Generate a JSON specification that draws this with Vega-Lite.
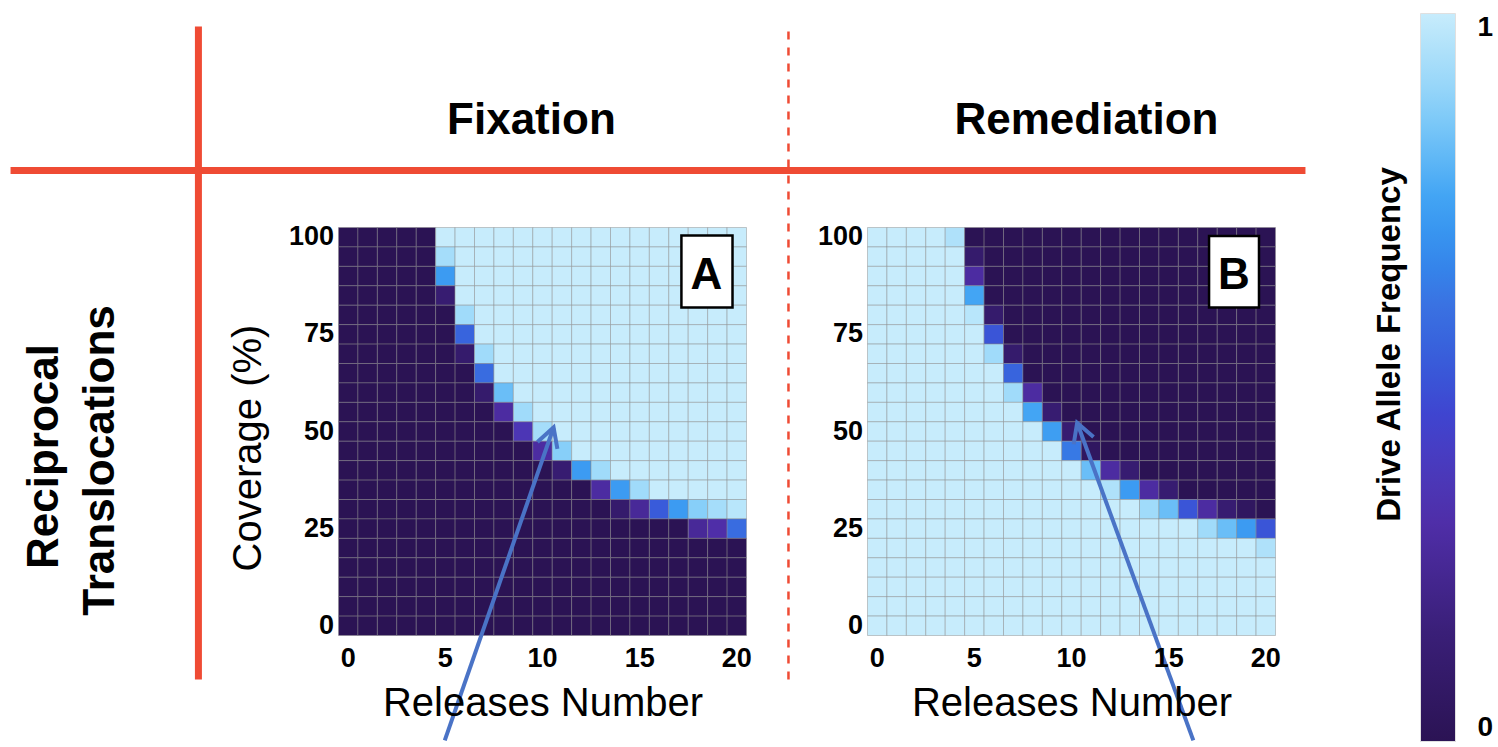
{
  "$schema": "https://vega.github.io/schema/vega-lite/v6.json",
  "padding": {"left": 6.5, "top": 13.5, "right": 0, "bottom": 0},
  "background": "white",
  "config": {
    "font": "Liberation Sans",
    "view": {"stroke": null},
    "axis": {"labelColor": "black", "titleColor": "black", "labelFont": "Liberation Sans", "titleFont": "Liberation Sans"},
    "legend": {"labelFont": "Liberation Sans", "labelColor": "black"}
  },
  "datasets": {
    "fix": [
{"rel":0,"cov":100,"freq":0},{"rel":0,"cov":95,"freq":0},{"rel":0,"cov":90,"freq":0},{"rel":0,"cov":85,"freq":0},{"rel":0,"cov":80,"freq":0},{"rel":0,"cov":75,"freq":0},{"rel":0,"cov":70,"freq":0},{"rel":0,"cov":65,"freq":0},{"rel":0,"cov":60,"freq":0},{"rel":0,"cov":55,"freq":0},{"rel":0,"cov":50,"freq":0},{"rel":0,"cov":45,"freq":0},{"rel":0,"cov":40,"freq":0},{"rel":0,"cov":35,"freq":0},{"rel":0,"cov":30,"freq":0},{"rel":0,"cov":25,"freq":0},{"rel":0,"cov":20,"freq":0},{"rel":0,"cov":15,"freq":0},{"rel":0,"cov":10,"freq":0},{"rel":0,"cov":5,"freq":0},{"rel":0,"cov":0,"freq":0},
{"rel":1,"cov":100,"freq":0},{"rel":1,"cov":95,"freq":0},{"rel":1,"cov":90,"freq":0},{"rel":1,"cov":85,"freq":0},{"rel":1,"cov":80,"freq":0},{"rel":1,"cov":75,"freq":0},{"rel":1,"cov":70,"freq":0},{"rel":1,"cov":65,"freq":0},{"rel":1,"cov":60,"freq":0},{"rel":1,"cov":55,"freq":0},{"rel":1,"cov":50,"freq":0},{"rel":1,"cov":45,"freq":0},{"rel":1,"cov":40,"freq":0},{"rel":1,"cov":35,"freq":0},{"rel":1,"cov":30,"freq":0},{"rel":1,"cov":25,"freq":0},{"rel":1,"cov":20,"freq":0},{"rel":1,"cov":15,"freq":0},{"rel":1,"cov":10,"freq":0},{"rel":1,"cov":5,"freq":0},{"rel":1,"cov":0,"freq":0},
{"rel":2,"cov":100,"freq":0},{"rel":2,"cov":95,"freq":0},{"rel":2,"cov":90,"freq":0},{"rel":2,"cov":85,"freq":0},{"rel":2,"cov":80,"freq":0},{"rel":2,"cov":75,"freq":0},{"rel":2,"cov":70,"freq":0},{"rel":2,"cov":65,"freq":0},{"rel":2,"cov":60,"freq":0},{"rel":2,"cov":55,"freq":0},{"rel":2,"cov":50,"freq":0},{"rel":2,"cov":45,"freq":0},{"rel":2,"cov":40,"freq":0},{"rel":2,"cov":35,"freq":0},{"rel":2,"cov":30,"freq":0},{"rel":2,"cov":25,"freq":0},{"rel":2,"cov":20,"freq":0},{"rel":2,"cov":15,"freq":0},{"rel":2,"cov":10,"freq":0},{"rel":2,"cov":5,"freq":0},{"rel":2,"cov":0,"freq":0},
{"rel":3,"cov":100,"freq":0},{"rel":3,"cov":95,"freq":0},{"rel":3,"cov":90,"freq":0},{"rel":3,"cov":85,"freq":0},{"rel":3,"cov":80,"freq":0},{"rel":3,"cov":75,"freq":0},{"rel":3,"cov":70,"freq":0},{"rel":3,"cov":65,"freq":0},{"rel":3,"cov":60,"freq":0},{"rel":3,"cov":55,"freq":0},{"rel":3,"cov":50,"freq":0},{"rel":3,"cov":45,"freq":0},{"rel":3,"cov":40,"freq":0},{"rel":3,"cov":35,"freq":0},{"rel":3,"cov":30,"freq":0},{"rel":3,"cov":25,"freq":0},{"rel":3,"cov":20,"freq":0},{"rel":3,"cov":15,"freq":0},{"rel":3,"cov":10,"freq":0},{"rel":3,"cov":5,"freq":0},{"rel":3,"cov":0,"freq":0},
{"rel":4,"cov":100,"freq":0},{"rel":4,"cov":95,"freq":0},{"rel":4,"cov":90,"freq":0},{"rel":4,"cov":85,"freq":0},{"rel":4,"cov":80,"freq":0},{"rel":4,"cov":75,"freq":0},{"rel":4,"cov":70,"freq":0},{"rel":4,"cov":65,"freq":0},{"rel":4,"cov":60,"freq":0},{"rel":4,"cov":55,"freq":0},{"rel":4,"cov":50,"freq":0},{"rel":4,"cov":45,"freq":0},{"rel":4,"cov":40,"freq":0},{"rel":4,"cov":35,"freq":0},{"rel":4,"cov":30,"freq":0},{"rel":4,"cov":25,"freq":0},{"rel":4,"cov":20,"freq":0},{"rel":4,"cov":15,"freq":0},{"rel":4,"cov":10,"freq":0},{"rel":4,"cov":5,"freq":0},{"rel":4,"cov":0,"freq":0},
{"rel":5,"cov":100,"freq":1},{"rel":5,"cov":95,"freq":0.93},{"rel":5,"cov":90,"freq":0.72},{"rel":5,"cov":85,"freq":0.12},{"rel":5,"cov":80,"freq":0},{"rel":5,"cov":75,"freq":0},{"rel":5,"cov":70,"freq":0},{"rel":5,"cov":65,"freq":0},{"rel":5,"cov":60,"freq":0},{"rel":5,"cov":55,"freq":0},{"rel":5,"cov":50,"freq":0},{"rel":5,"cov":45,"freq":0},{"rel":5,"cov":40,"freq":0},{"rel":5,"cov":35,"freq":0},{"rel":5,"cov":30,"freq":0},{"rel":5,"cov":25,"freq":0},{"rel":5,"cov":20,"freq":0},{"rel":5,"cov":15,"freq":0},{"rel":5,"cov":10,"freq":0},{"rel":5,"cov":5,"freq":0},{"rel":5,"cov":0,"freq":0},
{"rel":6,"cov":100,"freq":1},{"rel":6,"cov":95,"freq":1},{"rel":6,"cov":90,"freq":1},{"rel":6,"cov":85,"freq":1},{"rel":6,"cov":80,"freq":0.92},{"rel":6,"cov":75,"freq":0.55},{"rel":6,"cov":70,"freq":0.1},{"rel":6,"cov":65,"freq":0},{"rel":6,"cov":60,"freq":0},{"rel":6,"cov":55,"freq":0},{"rel":6,"cov":50,"freq":0},{"rel":6,"cov":45,"freq":0},{"rel":6,"cov":40,"freq":0},{"rel":6,"cov":35,"freq":0},{"rel":6,"cov":30,"freq":0},{"rel":6,"cov":25,"freq":0},{"rel":6,"cov":20,"freq":0},{"rel":6,"cov":15,"freq":0},{"rel":6,"cov":10,"freq":0},{"rel":6,"cov":5,"freq":0},{"rel":6,"cov":0,"freq":0},
{"rel":7,"cov":100,"freq":1},{"rel":7,"cov":95,"freq":1},{"rel":7,"cov":90,"freq":1},{"rel":7,"cov":85,"freq":1},{"rel":7,"cov":80,"freq":1},{"rel":7,"cov":75,"freq":1},{"rel":7,"cov":70,"freq":0.92},{"rel":7,"cov":65,"freq":0.58},{"rel":7,"cov":60,"freq":0.1},{"rel":7,"cov":55,"freq":0},{"rel":7,"cov":50,"freq":0},{"rel":7,"cov":45,"freq":0},{"rel":7,"cov":40,"freq":0},{"rel":7,"cov":35,"freq":0},{"rel":7,"cov":30,"freq":0},{"rel":7,"cov":25,"freq":0},{"rel":7,"cov":20,"freq":0},{"rel":7,"cov":15,"freq":0},{"rel":7,"cov":10,"freq":0},{"rel":7,"cov":5,"freq":0},{"rel":7,"cov":0,"freq":0},
{"rel":8,"cov":100,"freq":1},{"rel":8,"cov":95,"freq":1},{"rel":8,"cov":90,"freq":1},{"rel":8,"cov":85,"freq":1},{"rel":8,"cov":80,"freq":1},{"rel":8,"cov":75,"freq":1},{"rel":8,"cov":70,"freq":1},{"rel":8,"cov":65,"freq":1},{"rel":8,"cov":60,"freq":0.82},{"rel":8,"cov":55,"freq":0.28},{"rel":8,"cov":50,"freq":0},{"rel":8,"cov":45,"freq":0},{"rel":8,"cov":40,"freq":0},{"rel":8,"cov":35,"freq":0},{"rel":8,"cov":30,"freq":0},{"rel":8,"cov":25,"freq":0},{"rel":8,"cov":20,"freq":0},{"rel":8,"cov":15,"freq":0},{"rel":8,"cov":10,"freq":0},{"rel":8,"cov":5,"freq":0},{"rel":8,"cov":0,"freq":0},
{"rel":9,"cov":100,"freq":1},{"rel":9,"cov":95,"freq":1},{"rel":9,"cov":90,"freq":1},{"rel":9,"cov":85,"freq":1},{"rel":9,"cov":80,"freq":1},{"rel":9,"cov":75,"freq":1},{"rel":9,"cov":70,"freq":1},{"rel":9,"cov":65,"freq":1},{"rel":9,"cov":60,"freq":1},{"rel":9,"cov":55,"freq":0.92},{"rel":9,"cov":50,"freq":0.35},{"rel":9,"cov":45,"freq":0},{"rel":9,"cov":40,"freq":0},{"rel":9,"cov":35,"freq":0},{"rel":9,"cov":30,"freq":0},{"rel":9,"cov":25,"freq":0},{"rel":9,"cov":20,"freq":0},{"rel":9,"cov":15,"freq":0},{"rel":9,"cov":10,"freq":0},{"rel":9,"cov":5,"freq":0},{"rel":9,"cov":0,"freq":0},
{"rel":10,"cov":100,"freq":1},{"rel":10,"cov":95,"freq":1},{"rel":10,"cov":90,"freq":1},{"rel":10,"cov":85,"freq":1},{"rel":10,"cov":80,"freq":1},{"rel":10,"cov":75,"freq":1},{"rel":10,"cov":70,"freq":1},{"rel":10,"cov":65,"freq":1},{"rel":10,"cov":60,"freq":1},{"rel":10,"cov":55,"freq":1},{"rel":10,"cov":50,"freq":0.93},{"rel":10,"cov":45,"freq":0.28},{"rel":10,"cov":40,"freq":0},{"rel":10,"cov":35,"freq":0},{"rel":10,"cov":30,"freq":0},{"rel":10,"cov":25,"freq":0},{"rel":10,"cov":20,"freq":0},{"rel":10,"cov":15,"freq":0},{"rel":10,"cov":10,"freq":0},{"rel":10,"cov":5,"freq":0},{"rel":10,"cov":0,"freq":0},
{"rel":11,"cov":100,"freq":1},{"rel":11,"cov":95,"freq":1},{"rel":11,"cov":90,"freq":1},{"rel":11,"cov":85,"freq":1},{"rel":11,"cov":80,"freq":1},{"rel":11,"cov":75,"freq":1},{"rel":11,"cov":70,"freq":1},{"rel":11,"cov":65,"freq":1},{"rel":11,"cov":60,"freq":1},{"rel":11,"cov":55,"freq":1},{"rel":11,"cov":50,"freq":1},{"rel":11,"cov":45,"freq":0.87},{"rel":11,"cov":40,"freq":0.12},{"rel":11,"cov":35,"freq":0},{"rel":11,"cov":30,"freq":0},{"rel":11,"cov":25,"freq":0},{"rel":11,"cov":20,"freq":0},{"rel":11,"cov":15,"freq":0},{"rel":11,"cov":10,"freq":0},{"rel":11,"cov":5,"freq":0},{"rel":11,"cov":0,"freq":0},
{"rel":12,"cov":100,"freq":1},{"rel":12,"cov":95,"freq":1},{"rel":12,"cov":90,"freq":1},{"rel":12,"cov":85,"freq":1},{"rel":12,"cov":80,"freq":1},{"rel":12,"cov":75,"freq":1},{"rel":12,"cov":70,"freq":1},{"rel":12,"cov":65,"freq":1},{"rel":12,"cov":60,"freq":1},{"rel":12,"cov":55,"freq":1},{"rel":12,"cov":50,"freq":1},{"rel":12,"cov":45,"freq":1},{"rel":12,"cov":40,"freq":0.72},{"rel":12,"cov":35,"freq":0},{"rel":12,"cov":30,"freq":0},{"rel":12,"cov":25,"freq":0},{"rel":12,"cov":20,"freq":0},{"rel":12,"cov":15,"freq":0},{"rel":12,"cov":10,"freq":0},{"rel":12,"cov":5,"freq":0},{"rel":12,"cov":0,"freq":0},
{"rel":13,"cov":100,"freq":1},{"rel":13,"cov":95,"freq":1},{"rel":13,"cov":90,"freq":1},{"rel":13,"cov":85,"freq":1},{"rel":13,"cov":80,"freq":1},{"rel":13,"cov":75,"freq":1},{"rel":13,"cov":70,"freq":1},{"rel":13,"cov":65,"freq":1},{"rel":13,"cov":60,"freq":1},{"rel":13,"cov":55,"freq":1},{"rel":13,"cov":50,"freq":1},{"rel":13,"cov":45,"freq":1},{"rel":13,"cov":40,"freq":0.92},{"rel":13,"cov":35,"freq":0.28},{"rel":13,"cov":30,"freq":0},{"rel":13,"cov":25,"freq":0},{"rel":13,"cov":20,"freq":0},{"rel":13,"cov":15,"freq":0},{"rel":13,"cov":10,"freq":0},{"rel":13,"cov":5,"freq":0},{"rel":13,"cov":0,"freq":0},
{"rel":14,"cov":100,"freq":1},{"rel":14,"cov":95,"freq":1},{"rel":14,"cov":90,"freq":1},{"rel":14,"cov":85,"freq":1},{"rel":14,"cov":80,"freq":1},{"rel":14,"cov":75,"freq":1},{"rel":14,"cov":70,"freq":1},{"rel":14,"cov":65,"freq":1},{"rel":14,"cov":60,"freq":1},{"rel":14,"cov":55,"freq":1},{"rel":14,"cov":50,"freq":1},{"rel":14,"cov":45,"freq":1},{"rel":14,"cov":40,"freq":1},{"rel":14,"cov":35,"freq":0.72},{"rel":14,"cov":30,"freq":0.1},{"rel":14,"cov":25,"freq":0},{"rel":14,"cov":20,"freq":0},{"rel":14,"cov":15,"freq":0},{"rel":14,"cov":10,"freq":0},{"rel":14,"cov":5,"freq":0},{"rel":14,"cov":0,"freq":0},
{"rel":15,"cov":100,"freq":1},{"rel":15,"cov":95,"freq":1},{"rel":15,"cov":90,"freq":1},{"rel":15,"cov":85,"freq":1},{"rel":15,"cov":80,"freq":1},{"rel":15,"cov":75,"freq":1},{"rel":15,"cov":70,"freq":1},{"rel":15,"cov":65,"freq":1},{"rel":15,"cov":60,"freq":1},{"rel":15,"cov":55,"freq":1},{"rel":15,"cov":50,"freq":1},{"rel":15,"cov":45,"freq":1},{"rel":15,"cov":40,"freq":1},{"rel":15,"cov":35,"freq":0.92},{"rel":15,"cov":30,"freq":0.25},{"rel":15,"cov":25,"freq":0},{"rel":15,"cov":20,"freq":0},{"rel":15,"cov":15,"freq":0},{"rel":15,"cov":10,"freq":0},{"rel":15,"cov":5,"freq":0},{"rel":15,"cov":0,"freq":0},
{"rel":16,"cov":100,"freq":1},{"rel":16,"cov":95,"freq":1},{"rel":16,"cov":90,"freq":1},{"rel":16,"cov":85,"freq":1},{"rel":16,"cov":80,"freq":1},{"rel":16,"cov":75,"freq":1},{"rel":16,"cov":70,"freq":1},{"rel":16,"cov":65,"freq":1},{"rel":16,"cov":60,"freq":1},{"rel":16,"cov":55,"freq":1},{"rel":16,"cov":50,"freq":1},{"rel":16,"cov":45,"freq":1},{"rel":16,"cov":40,"freq":1},{"rel":16,"cov":35,"freq":1},{"rel":16,"cov":30,"freq":0.52},{"rel":16,"cov":25,"freq":0},{"rel":16,"cov":20,"freq":0},{"rel":16,"cov":15,"freq":0},{"rel":16,"cov":10,"freq":0},{"rel":16,"cov":5,"freq":0},{"rel":16,"cov":0,"freq":0},
{"rel":17,"cov":100,"freq":1},{"rel":17,"cov":95,"freq":1},{"rel":17,"cov":90,"freq":1},{"rel":17,"cov":85,"freq":1},{"rel":17,"cov":80,"freq":1},{"rel":17,"cov":75,"freq":1},{"rel":17,"cov":70,"freq":1},{"rel":17,"cov":65,"freq":1},{"rel":17,"cov":60,"freq":1},{"rel":17,"cov":55,"freq":1},{"rel":17,"cov":50,"freq":1},{"rel":17,"cov":45,"freq":1},{"rel":17,"cov":40,"freq":1},{"rel":17,"cov":35,"freq":1},{"rel":17,"cov":30,"freq":0.72},{"rel":17,"cov":25,"freq":0},{"rel":17,"cov":20,"freq":0},{"rel":17,"cov":15,"freq":0},{"rel":17,"cov":10,"freq":0},{"rel":17,"cov":5,"freq":0},{"rel":17,"cov":0,"freq":0},
{"rel":18,"cov":100,"freq":1},{"rel":18,"cov":95,"freq":1},{"rel":18,"cov":90,"freq":1},{"rel":18,"cov":85,"freq":1},{"rel":18,"cov":80,"freq":1},{"rel":18,"cov":75,"freq":1},{"rel":18,"cov":70,"freq":1},{"rel":18,"cov":65,"freq":1},{"rel":18,"cov":60,"freq":1},{"rel":18,"cov":55,"freq":1},{"rel":18,"cov":50,"freq":1},{"rel":18,"cov":45,"freq":1},{"rel":18,"cov":40,"freq":1},{"rel":18,"cov":35,"freq":1},{"rel":18,"cov":30,"freq":0.87},{"rel":18,"cov":25,"freq":0.25},{"rel":18,"cov":20,"freq":0},{"rel":18,"cov":15,"freq":0},{"rel":18,"cov":10,"freq":0},{"rel":18,"cov":5,"freq":0},{"rel":18,"cov":0,"freq":0},
{"rel":19,"cov":100,"freq":1},{"rel":19,"cov":95,"freq":1},{"rel":19,"cov":90,"freq":1},{"rel":19,"cov":85,"freq":1},{"rel":19,"cov":80,"freq":1},{"rel":19,"cov":75,"freq":1},{"rel":19,"cov":70,"freq":1},{"rel":19,"cov":65,"freq":1},{"rel":19,"cov":60,"freq":1},{"rel":19,"cov":55,"freq":1},{"rel":19,"cov":50,"freq":1},{"rel":19,"cov":45,"freq":1},{"rel":19,"cov":40,"freq":1},{"rel":19,"cov":35,"freq":1},{"rel":19,"cov":30,"freq":0.93},{"rel":19,"cov":25,"freq":0.3},{"rel":19,"cov":20,"freq":0},{"rel":19,"cov":15,"freq":0},{"rel":19,"cov":10,"freq":0},{"rel":19,"cov":5,"freq":0},{"rel":19,"cov":0,"freq":0},
{"rel":20,"cov":100,"freq":1},{"rel":20,"cov":95,"freq":1},{"rel":20,"cov":90,"freq":1},{"rel":20,"cov":85,"freq":1},{"rel":20,"cov":80,"freq":1},{"rel":20,"cov":75,"freq":1},{"rel":20,"cov":70,"freq":1},{"rel":20,"cov":65,"freq":1},{"rel":20,"cov":60,"freq":1},{"rel":20,"cov":55,"freq":1},{"rel":20,"cov":50,"freq":1},{"rel":20,"cov":45,"freq":1},{"rel":20,"cov":40,"freq":1},{"rel":20,"cov":35,"freq":1},{"rel":20,"cov":30,"freq":0.97},{"rel":20,"cov":25,"freq":0.58},{"rel":20,"cov":20,"freq":0},{"rel":20,"cov":15,"freq":0},{"rel":20,"cov":10,"freq":0},{"rel":20,"cov":5,"freq":0},{"rel":20,"cov":0,"freq":0}
    ],
    "rem": [
{"rel":0,"cov":100,"freq":1},{"rel":0,"cov":95,"freq":1},{"rel":0,"cov":90,"freq":1},{"rel":0,"cov":85,"freq":1},{"rel":0,"cov":80,"freq":1},{"rel":0,"cov":75,"freq":1},{"rel":0,"cov":70,"freq":1},{"rel":0,"cov":65,"freq":1},{"rel":0,"cov":60,"freq":1},{"rel":0,"cov":55,"freq":1},{"rel":0,"cov":50,"freq":1},{"rel":0,"cov":45,"freq":1},{"rel":0,"cov":40,"freq":1},{"rel":0,"cov":35,"freq":1},{"rel":0,"cov":30,"freq":1},{"rel":0,"cov":25,"freq":1},{"rel":0,"cov":20,"freq":1},{"rel":0,"cov":15,"freq":1},{"rel":0,"cov":10,"freq":1},{"rel":0,"cov":5,"freq":1},{"rel":0,"cov":0,"freq":1},
{"rel":1,"cov":100,"freq":1},{"rel":1,"cov":95,"freq":1},{"rel":1,"cov":90,"freq":1},{"rel":1,"cov":85,"freq":1},{"rel":1,"cov":80,"freq":1},{"rel":1,"cov":75,"freq":1},{"rel":1,"cov":70,"freq":1},{"rel":1,"cov":65,"freq":1},{"rel":1,"cov":60,"freq":1},{"rel":1,"cov":55,"freq":1},{"rel":1,"cov":50,"freq":1},{"rel":1,"cov":45,"freq":1},{"rel":1,"cov":40,"freq":1},{"rel":1,"cov":35,"freq":1},{"rel":1,"cov":30,"freq":1},{"rel":1,"cov":25,"freq":1},{"rel":1,"cov":20,"freq":1},{"rel":1,"cov":15,"freq":1},{"rel":1,"cov":10,"freq":1},{"rel":1,"cov":5,"freq":1},{"rel":1,"cov":0,"freq":1},
{"rel":2,"cov":100,"freq":1},{"rel":2,"cov":95,"freq":1},{"rel":2,"cov":90,"freq":1},{"rel":2,"cov":85,"freq":1},{"rel":2,"cov":80,"freq":1},{"rel":2,"cov":75,"freq":1},{"rel":2,"cov":70,"freq":1},{"rel":2,"cov":65,"freq":1},{"rel":2,"cov":60,"freq":1},{"rel":2,"cov":55,"freq":1},{"rel":2,"cov":50,"freq":1},{"rel":2,"cov":45,"freq":1},{"rel":2,"cov":40,"freq":1},{"rel":2,"cov":35,"freq":1},{"rel":2,"cov":30,"freq":1},{"rel":2,"cov":25,"freq":1},{"rel":2,"cov":20,"freq":1},{"rel":2,"cov":15,"freq":1},{"rel":2,"cov":10,"freq":1},{"rel":2,"cov":5,"freq":1},{"rel":2,"cov":0,"freq":1},
{"rel":3,"cov":100,"freq":1},{"rel":3,"cov":95,"freq":1},{"rel":3,"cov":90,"freq":1},{"rel":3,"cov":85,"freq":1},{"rel":3,"cov":80,"freq":1},{"rel":3,"cov":75,"freq":1},{"rel":3,"cov":70,"freq":1},{"rel":3,"cov":65,"freq":1},{"rel":3,"cov":60,"freq":1},{"rel":3,"cov":55,"freq":1},{"rel":3,"cov":50,"freq":1},{"rel":3,"cov":45,"freq":1},{"rel":3,"cov":40,"freq":1},{"rel":3,"cov":35,"freq":1},{"rel":3,"cov":30,"freq":1},{"rel":3,"cov":25,"freq":1},{"rel":3,"cov":20,"freq":1},{"rel":3,"cov":15,"freq":1},{"rel":3,"cov":10,"freq":1},{"rel":3,"cov":5,"freq":1},{"rel":3,"cov":0,"freq":1},
{"rel":4,"cov":100,"freq":0.95},{"rel":4,"cov":95,"freq":1},{"rel":4,"cov":90,"freq":1},{"rel":4,"cov":85,"freq":1},{"rel":4,"cov":80,"freq":1},{"rel":4,"cov":75,"freq":1},{"rel":4,"cov":70,"freq":1},{"rel":4,"cov":65,"freq":1},{"rel":4,"cov":60,"freq":1},{"rel":4,"cov":55,"freq":1},{"rel":4,"cov":50,"freq":1},{"rel":4,"cov":45,"freq":1},{"rel":4,"cov":40,"freq":1},{"rel":4,"cov":35,"freq":1},{"rel":4,"cov":30,"freq":1},{"rel":4,"cov":25,"freq":1},{"rel":4,"cov":20,"freq":1},{"rel":4,"cov":15,"freq":1},{"rel":4,"cov":10,"freq":1},{"rel":4,"cov":5,"freq":1},{"rel":4,"cov":0,"freq":1},
{"rel":5,"cov":100,"freq":0},{"rel":5,"cov":95,"freq":0.1},{"rel":5,"cov":90,"freq":0.28},{"rel":5,"cov":85,"freq":0.75},{"rel":5,"cov":80,"freq":0.97},{"rel":5,"cov":75,"freq":1},{"rel":5,"cov":70,"freq":1},{"rel":5,"cov":65,"freq":1},{"rel":5,"cov":60,"freq":1},{"rel":5,"cov":55,"freq":1},{"rel":5,"cov":50,"freq":1},{"rel":5,"cov":45,"freq":1},{"rel":5,"cov":40,"freq":1},{"rel":5,"cov":35,"freq":1},{"rel":5,"cov":30,"freq":1},{"rel":5,"cov":25,"freq":1},{"rel":5,"cov":20,"freq":1},{"rel":5,"cov":15,"freq":1},{"rel":5,"cov":10,"freq":1},{"rel":5,"cov":5,"freq":1},{"rel":5,"cov":0,"freq":1},
{"rel":6,"cov":100,"freq":0},{"rel":6,"cov":95,"freq":0},{"rel":6,"cov":90,"freq":0},{"rel":6,"cov":85,"freq":0},{"rel":6,"cov":80,"freq":0.1},{"rel":6,"cov":75,"freq":0.5},{"rel":6,"cov":70,"freq":0.92},{"rel":6,"cov":65,"freq":1},{"rel":6,"cov":60,"freq":1},{"rel":6,"cov":55,"freq":1},{"rel":6,"cov":50,"freq":1},{"rel":6,"cov":45,"freq":1},{"rel":6,"cov":40,"freq":1},{"rel":6,"cov":35,"freq":1},{"rel":6,"cov":30,"freq":1},{"rel":6,"cov":25,"freq":1},{"rel":6,"cov":20,"freq":1},{"rel":6,"cov":15,"freq":1},{"rel":6,"cov":10,"freq":1},{"rel":6,"cov":5,"freq":1},{"rel":6,"cov":0,"freq":1},
{"rel":7,"cov":100,"freq":0},{"rel":7,"cov":95,"freq":0},{"rel":7,"cov":90,"freq":0},{"rel":7,"cov":85,"freq":0},{"rel":7,"cov":80,"freq":0},{"rel":7,"cov":75,"freq":0},{"rel":7,"cov":70,"freq":0.1},{"rel":7,"cov":65,"freq":0.55},{"rel":7,"cov":60,"freq":0.92},{"rel":7,"cov":55,"freq":1},{"rel":7,"cov":50,"freq":1},{"rel":7,"cov":45,"freq":1},{"rel":7,"cov":40,"freq":1},{"rel":7,"cov":35,"freq":1},{"rel":7,"cov":30,"freq":1},{"rel":7,"cov":25,"freq":1},{"rel":7,"cov":20,"freq":1},{"rel":7,"cov":15,"freq":1},{"rel":7,"cov":10,"freq":1},{"rel":7,"cov":5,"freq":1},{"rel":7,"cov":0,"freq":1},
{"rel":8,"cov":100,"freq":0},{"rel":8,"cov":95,"freq":0},{"rel":8,"cov":90,"freq":0},{"rel":8,"cov":85,"freq":0},{"rel":8,"cov":80,"freq":0},{"rel":8,"cov":75,"freq":0},{"rel":8,"cov":70,"freq":0},{"rel":8,"cov":65,"freq":0},{"rel":8,"cov":60,"freq":0.28},{"rel":8,"cov":55,"freq":0.75},{"rel":8,"cov":50,"freq":1},{"rel":8,"cov":45,"freq":1},{"rel":8,"cov":40,"freq":1},{"rel":8,"cov":35,"freq":1},{"rel":8,"cov":30,"freq":1},{"rel":8,"cov":25,"freq":1},{"rel":8,"cov":20,"freq":1},{"rel":8,"cov":15,"freq":1},{"rel":8,"cov":10,"freq":1},{"rel":8,"cov":5,"freq":1},{"rel":8,"cov":0,"freq":1},
{"rel":9,"cov":100,"freq":0},{"rel":9,"cov":95,"freq":0},{"rel":9,"cov":90,"freq":0},{"rel":9,"cov":85,"freq":0},{"rel":9,"cov":80,"freq":0},{"rel":9,"cov":75,"freq":0},{"rel":9,"cov":70,"freq":0},{"rel":9,"cov":65,"freq":0},{"rel":9,"cov":60,"freq":0},{"rel":9,"cov":55,"freq":0.12},{"rel":9,"cov":50,"freq":0.73},{"rel":9,"cov":45,"freq":1},{"rel":9,"cov":40,"freq":1},{"rel":9,"cov":35,"freq":1},{"rel":9,"cov":30,"freq":1},{"rel":9,"cov":25,"freq":1},{"rel":9,"cov":20,"freq":1},{"rel":9,"cov":15,"freq":1},{"rel":9,"cov":10,"freq":1},{"rel":9,"cov":5,"freq":1},{"rel":9,"cov":0,"freq":1},
{"rel":10,"cov":100,"freq":0},{"rel":10,"cov":95,"freq":0},{"rel":10,"cov":90,"freq":0},{"rel":10,"cov":85,"freq":0},{"rel":10,"cov":80,"freq":0},{"rel":10,"cov":75,"freq":0},{"rel":10,"cov":70,"freq":0},{"rel":10,"cov":65,"freq":0},{"rel":10,"cov":60,"freq":0},{"rel":10,"cov":55,"freq":0},{"rel":10,"cov":50,"freq":0.12},{"rel":10,"cov":45,"freq":0.62},{"rel":10,"cov":40,"freq":1},{"rel":10,"cov":35,"freq":1},{"rel":10,"cov":30,"freq":1},{"rel":10,"cov":25,"freq":1},{"rel":10,"cov":20,"freq":1},{"rel":10,"cov":15,"freq":1},{"rel":10,"cov":10,"freq":1},{"rel":10,"cov":5,"freq":1},{"rel":10,"cov":0,"freq":1},
{"rel":11,"cov":100,"freq":0},{"rel":11,"cov":95,"freq":0},{"rel":11,"cov":90,"freq":0},{"rel":11,"cov":85,"freq":0},{"rel":11,"cov":80,"freq":0},{"rel":11,"cov":75,"freq":0},{"rel":11,"cov":70,"freq":0},{"rel":11,"cov":65,"freq":0},{"rel":11,"cov":60,"freq":0},{"rel":11,"cov":55,"freq":0},{"rel":11,"cov":50,"freq":0},{"rel":11,"cov":45,"freq":0.05},{"rel":11,"cov":40,"freq":0.82},{"rel":11,"cov":35,"freq":1},{"rel":11,"cov":30,"freq":1},{"rel":11,"cov":25,"freq":1},{"rel":11,"cov":20,"freq":1},{"rel":11,"cov":15,"freq":1},{"rel":11,"cov":10,"freq":1},{"rel":11,"cov":5,"freq":1},{"rel":11,"cov":0,"freq":1},
{"rel":12,"cov":100,"freq":0},{"rel":12,"cov":95,"freq":0},{"rel":12,"cov":90,"freq":0},{"rel":12,"cov":85,"freq":0},{"rel":12,"cov":80,"freq":0},{"rel":12,"cov":75,"freq":0},{"rel":12,"cov":70,"freq":0},{"rel":12,"cov":65,"freq":0},{"rel":12,"cov":60,"freq":0},{"rel":12,"cov":55,"freq":0},{"rel":12,"cov":50,"freq":0},{"rel":12,"cov":45,"freq":0},{"rel":12,"cov":40,"freq":0.28},{"rel":12,"cov":35,"freq":0.95},{"rel":12,"cov":30,"freq":1},{"rel":12,"cov":25,"freq":1},{"rel":12,"cov":20,"freq":1},{"rel":12,"cov":15,"freq":1},{"rel":12,"cov":10,"freq":1},{"rel":12,"cov":5,"freq":1},{"rel":12,"cov":0,"freq":1},
{"rel":13,"cov":100,"freq":0},{"rel":13,"cov":95,"freq":0},{"rel":13,"cov":90,"freq":0},{"rel":13,"cov":85,"freq":0},{"rel":13,"cov":80,"freq":0},{"rel":13,"cov":75,"freq":0},{"rel":13,"cov":70,"freq":0},{"rel":13,"cov":65,"freq":0},{"rel":13,"cov":60,"freq":0},{"rel":13,"cov":55,"freq":0},{"rel":13,"cov":50,"freq":0},{"rel":13,"cov":45,"freq":0},{"rel":13,"cov":40,"freq":0.12},{"rel":13,"cov":35,"freq":0.72},{"rel":13,"cov":30,"freq":1},{"rel":13,"cov":25,"freq":1},{"rel":13,"cov":20,"freq":1},{"rel":13,"cov":15,"freq":1},{"rel":13,"cov":10,"freq":1},{"rel":13,"cov":5,"freq":1},{"rel":13,"cov":0,"freq":1},
{"rel":14,"cov":100,"freq":0},{"rel":14,"cov":95,"freq":0},{"rel":14,"cov":90,"freq":0},{"rel":14,"cov":85,"freq":0},{"rel":14,"cov":80,"freq":0},{"rel":14,"cov":75,"freq":0},{"rel":14,"cov":70,"freq":0},{"rel":14,"cov":65,"freq":0},{"rel":14,"cov":60,"freq":0},{"rel":14,"cov":55,"freq":0},{"rel":14,"cov":50,"freq":0},{"rel":14,"cov":45,"freq":0},{"rel":14,"cov":40,"freq":0},{"rel":14,"cov":35,"freq":0.28},{"rel":14,"cov":30,"freq":0.92},{"rel":14,"cov":25,"freq":1},{"rel":14,"cov":20,"freq":1},{"rel":14,"cov":15,"freq":1},{"rel":14,"cov":10,"freq":1},{"rel":14,"cov":5,"freq":1},{"rel":14,"cov":0,"freq":1},
{"rel":15,"cov":100,"freq":0},{"rel":15,"cov":95,"freq":0},{"rel":15,"cov":90,"freq":0},{"rel":15,"cov":85,"freq":0},{"rel":15,"cov":80,"freq":0},{"rel":15,"cov":75,"freq":0},{"rel":15,"cov":70,"freq":0},{"rel":15,"cov":65,"freq":0},{"rel":15,"cov":60,"freq":0},{"rel":15,"cov":55,"freq":0},{"rel":15,"cov":50,"freq":0},{"rel":15,"cov":45,"freq":0},{"rel":15,"cov":40,"freq":0},{"rel":15,"cov":35,"freq":0.12},{"rel":15,"cov":30,"freq":0.82},{"rel":15,"cov":25,"freq":1},{"rel":15,"cov":20,"freq":1},{"rel":15,"cov":15,"freq":1},{"rel":15,"cov":10,"freq":1},{"rel":15,"cov":5,"freq":1},{"rel":15,"cov":0,"freq":1},
{"rel":16,"cov":100,"freq":0},{"rel":16,"cov":95,"freq":0},{"rel":16,"cov":90,"freq":0},{"rel":16,"cov":85,"freq":0},{"rel":16,"cov":80,"freq":0},{"rel":16,"cov":75,"freq":0},{"rel":16,"cov":70,"freq":0},{"rel":16,"cov":65,"freq":0},{"rel":16,"cov":60,"freq":0},{"rel":16,"cov":55,"freq":0},{"rel":16,"cov":50,"freq":0},{"rel":16,"cov":45,"freq":0},{"rel":16,"cov":40,"freq":0},{"rel":16,"cov":35,"freq":0},{"rel":16,"cov":30,"freq":0.5},{"rel":16,"cov":25,"freq":1},{"rel":16,"cov":20,"freq":1},{"rel":16,"cov":15,"freq":1},{"rel":16,"cov":10,"freq":1},{"rel":16,"cov":5,"freq":1},{"rel":16,"cov":0,"freq":1},
{"rel":17,"cov":100,"freq":0},{"rel":17,"cov":95,"freq":0},{"rel":17,"cov":90,"freq":0},{"rel":17,"cov":85,"freq":0},{"rel":17,"cov":80,"freq":0},{"rel":17,"cov":75,"freq":0},{"rel":17,"cov":70,"freq":0},{"rel":17,"cov":65,"freq":0},{"rel":17,"cov":60,"freq":0},{"rel":17,"cov":55,"freq":0},{"rel":17,"cov":50,"freq":0},{"rel":17,"cov":45,"freq":0},{"rel":17,"cov":40,"freq":0},{"rel":17,"cov":35,"freq":0},{"rel":17,"cov":30,"freq":0.28},{"rel":17,"cov":25,"freq":0.92},{"rel":17,"cov":20,"freq":1},{"rel":17,"cov":15,"freq":1},{"rel":17,"cov":10,"freq":1},{"rel":17,"cov":5,"freq":1},{"rel":17,"cov":0,"freq":1},
{"rel":18,"cov":100,"freq":0},{"rel":18,"cov":95,"freq":0},{"rel":18,"cov":90,"freq":0},{"rel":18,"cov":85,"freq":0},{"rel":18,"cov":80,"freq":0},{"rel":18,"cov":75,"freq":0},{"rel":18,"cov":70,"freq":0},{"rel":18,"cov":65,"freq":0},{"rel":18,"cov":60,"freq":0},{"rel":18,"cov":55,"freq":0},{"rel":18,"cov":50,"freq":0},{"rel":18,"cov":45,"freq":0},{"rel":18,"cov":40,"freq":0},{"rel":18,"cov":35,"freq":0},{"rel":18,"cov":30,"freq":0.12},{"rel":18,"cov":25,"freq":0.82},{"rel":18,"cov":20,"freq":1},{"rel":18,"cov":15,"freq":1},{"rel":18,"cov":10,"freq":1},{"rel":18,"cov":5,"freq":1},{"rel":18,"cov":0,"freq":1},
{"rel":19,"cov":100,"freq":0},{"rel":19,"cov":95,"freq":0},{"rel":19,"cov":90,"freq":0},{"rel":19,"cov":85,"freq":0},{"rel":19,"cov":80,"freq":0},{"rel":19,"cov":75,"freq":0},{"rel":19,"cov":70,"freq":0},{"rel":19,"cov":65,"freq":0},{"rel":19,"cov":60,"freq":0},{"rel":19,"cov":55,"freq":0},{"rel":19,"cov":50,"freq":0},{"rel":19,"cov":45,"freq":0},{"rel":19,"cov":40,"freq":0},{"rel":19,"cov":35,"freq":0},{"rel":19,"cov":30,"freq":0.05},{"rel":19,"cov":25,"freq":0.72},{"rel":19,"cov":20,"freq":1},{"rel":19,"cov":15,"freq":1},{"rel":19,"cov":10,"freq":1},{"rel":19,"cov":5,"freq":1},{"rel":19,"cov":0,"freq":1},
{"rel":20,"cov":100,"freq":0},{"rel":20,"cov":95,"freq":0},{"rel":20,"cov":90,"freq":0},{"rel":20,"cov":85,"freq":0},{"rel":20,"cov":80,"freq":0},{"rel":20,"cov":75,"freq":0},{"rel":20,"cov":70,"freq":0},{"rel":20,"cov":65,"freq":0},{"rel":20,"cov":60,"freq":0},{"rel":20,"cov":55,"freq":0},{"rel":20,"cov":50,"freq":0},{"rel":20,"cov":45,"freq":0},{"rel":20,"cov":40,"freq":0},{"rel":20,"cov":35,"freq":0},{"rel":20,"cov":30,"freq":0},{"rel":20,"cov":25,"freq":0.5},{"rel":20,"cov":20,"freq":0.95},{"rel":20,"cov":15,"freq":1},{"rel":20,"cov":10,"freq":1},{"rel":20,"cov":5,"freq":1},{"rel":20,"cov":0,"freq":1}
    ]
  },
  "spacing": 121,
  "bounds": "flush",
  "hconcat": [
    {
      "width": 408,
      "height": 408,
      "resolve": {"scale": {"x": "independent", "y": "independent"}},
      "layer": [
        {
          "data": {"name": "fix"},
          "mark": {"type": "rect", "stroke": "#888888", "strokeWidth": 1, "strokeOpacity": 0.45},
          "encoding": {
            "x": {"field": "rel", "type": "ordinal", "scale": {"paddingInner": 0, "paddingOuter": 0},
              "axis": {"values": [0, 5, 10, 15, 20], "labelAngle": 0, "ticks": false, "tickSize": 0, "domain": false, "labelPadding": 10, "labelFontSize": 27, "labelFontWeight": "bold", "title": "Releases Number", "titleFontSize": 40, "titleFontWeight": "normal", "titlePadding": 12}},
            "y": {"field": "cov", "type": "ordinal", "sort": "descending", "scale": {"paddingInner": 0, "paddingOuter": 0},
              "axis": {"values": [0, 25, 50, 75, 100], "ticks": false, "tickSize": 0, "domain": false, "labelPadding": 5, "labelFontSize": 27, "labelFontWeight": "bold", "title": "Coverage (%)", "titleFontSize": 40, "titleFontWeight": "normal", "titlePadding": 20, "titleY": 220}},
            "color": {"field": "freq", "type": "quantitative",
              "scale": {"domain": [0, 0.15, 0.3, 0.45, 0.6, 0.75, 0.88, 1], "range": ["#2b1354", "#3a1f78", "#4f2ea8", "#3f45d0", "#3a72e2", "#43a5f4", "#8dd2f9", "#c7ecfc"]},
              "legend": {"orient": "none", "legendX": 1082, "legendY": -214, "direction": "vertical", "title": null, "gradientLength": 728, "gradientThickness": 35, "values": [0, 1], "format": "d", "labelFontSize": 28, "labelFontWeight": "bold", "labelOffset": 22, "gradientStrokeColor": "#e0e0e0", "gradientStrokeWidth": 1}}
          }
        },
        {
          "data": {"values": [{"x": -17.38, "x2": 49.27, "y": 117.17, "y2": 117.17}, {"x": -7.71, "x2": -7.71, "y": 154.23, "y2": -13.82}]},
          "mark": {"type": "rule", "color": "#ef4b34", "strokeWidth": 7},
          "encoding": {
            "x": {"field": "x", "type": "quantitative", "scale": {"domain": [-0.5, 20.5], "nice": false, "zero": false}, "axis": null},
            "x2": {"field": "x2"},
            "y": {"field": "y", "type": "quantitative", "scale": {"domain": [-2.5, 102.5], "nice": false, "zero": false}, "axis": null},
            "y2": {"field": "y2"}
          }
        },
        {
          "data": {"values": [{"x": 22.66, "x2": 22.66, "y": 152.94, "y2": -13.82}]},
          "mark": {"type": "rule", "color": "#ef4b34", "strokeWidth": 2.5, "strokeDash": [8, 8]},
          "encoding": {
            "x": {"field": "x", "type": "quantitative", "scale": {"domain": [-0.5, 20.5], "nice": false, "zero": false}, "axis": null},
            "x2": {"field": "x2"},
            "y": {"field": "y", "type": "quantitative", "scale": {"domain": [-2.5, 102.5], "nice": false, "zero": false}, "axis": null},
            "y2": {"field": "y2"}
          }
        },
        {
          "data": {"values": [{"label": "Fixation", "x": 9.43, "y": 126.69}]},
          "mark": {"type": "text", "fontSize": 44, "fontWeight": "bold", "align": "center", "baseline": "alphabetic", "color": "black"},
          "encoding": {
            "x": {"field": "x", "type": "quantitative", "scale": {"domain": [-0.5, 20.5], "nice": false, "zero": false}, "axis": null},
            "y": {"field": "y", "type": "quantitative", "scale": {"domain": [-2.5, 102.5], "nice": false, "zero": false}, "axis": null},
            "text": {"field": "label"}
          }
        },
        {
          "data": {"values": [{"label": "Reciprocal", "x": -14.96, "y": 43.57}, {"label": "Translocations", "x": -12.08, "y": 42.54}]},
          "mark": {"type": "text", "angle": 270, "fontSize": 44, "fontWeight": "bold", "align": "center", "baseline": "alphabetic", "color": "black"},
          "encoding": {
            "x": {"field": "x", "type": "quantitative", "scale": {"domain": [-0.5, 20.5], "nice": false, "zero": false}, "axis": null},
            "y": {"field": "y", "type": "quantitative", "scale": {"domain": [-2.5, 102.5], "nice": false, "zero": false}, "axis": null},
            "text": {"field": "label"}
          }
        },
        {
          "data": {"values": [{"x": 17.15, "x2": 19.78, "y": 100.44, "y2": 81.91}]},
          "mark": {"type": "rect", "fill": "white", "stroke": "black", "strokeWidth": 2.5},
          "encoding": {
            "x": {"field": "x", "type": "quantitative", "scale": {"domain": [-0.5, 20.5], "nice": false, "zero": false}, "axis": null},
            "x2": {"field": "x2"},
            "y": {"field": "y", "type": "quantitative", "scale": {"domain": [-2.5, 102.5], "nice": false, "zero": false}, "axis": null},
            "y2": {"field": "y2"}
          }
        },
        {
          "data": {"values": [{"label": "A", "x": 18.44, "y": 86.8}]},
          "mark": {"type": "text", "fontSize": 44, "fontWeight": "bold", "align": "center", "baseline": "alphabetic", "color": "black"},
          "encoding": {
            "x": {"field": "x", "type": "quantitative", "scale": {"domain": [-0.5, 20.5], "nice": false, "zero": false}, "axis": null},
            "y": {"field": "y", "type": "quantitative", "scale": {"domain": [-2.5, 102.5], "nice": false, "zero": false}, "axis": null},
            "text": {"field": "label"}
          }
        },
        {
          "data": {"values": [{"x": 4.97, "x2": 10.57, "y": -29.5, "y2": 51.03}]},
          "mark": {"type": "rule", "color": "#4a73c6", "strokeWidth": 4},
          "encoding": {
            "x": {"field": "x", "type": "quantitative", "scale": {"domain": [-0.5, 20.5], "nice": false, "zero": false}, "axis": null},
            "x2": {"field": "x2"},
            "y": {"field": "y", "type": "quantitative", "scale": {"domain": [-2.5, 102.5], "nice": false, "zero": false}, "axis": null},
            "y2": {"field": "y2"}
          }
        },
        {
          "data": {"values": [{"x": 10.57, "y": 51.03}]},
          "mark": {"type": "point", "shape": "M-0.44,0.79L0,0L0.44,0.79", "filled": false, "stroke": "#4a73c6", "strokeWidth": 4, "size": 2304, "angle": 19, "opacity": 1},
          "encoding": {
            "x": {"field": "x", "type": "quantitative", "scale": {"domain": [-0.5, 20.5], "nice": false, "zero": false}, "axis": null},
            "y": {"field": "y", "type": "quantitative", "scale": {"domain": [-2.5, 102.5], "nice": false, "zero": false}, "axis": null}
          }
        }
      ]
    },
    {
      "width": 408,
      "height": 408,
      "resolve": {"scale": {"x": "independent", "y": "independent"}},
      "layer": [
        {
          "data": {"name": "rem"},
          "mark": {"type": "rect", "stroke": "#888888", "strokeWidth": 1, "strokeOpacity": 0.45},
          "encoding": {
            "x": {"field": "rel", "type": "ordinal", "scale": {"paddingInner": 0, "paddingOuter": 0},
              "axis": {"values": [0, 5, 10, 15, 20], "labelAngle": 0, "ticks": false, "tickSize": 0, "domain": false, "labelPadding": 10, "labelFontSize": 27, "labelFontWeight": "bold", "title": "Releases Number", "titleFontSize": 40, "titleFontWeight": "normal", "titlePadding": 12}},
            "y": {"field": "cov", "type": "ordinal", "sort": "descending", "scale": {"paddingInner": 0, "paddingOuter": 0},
              "axis": {"values": [0, 25, 50, 75, 100], "ticks": false, "tickSize": 0, "domain": false, "labelPadding": 5, "labelFontSize": 27, "labelFontWeight": "bold", "title": null}},
            "color": {"field": "freq", "type": "quantitative",
              "scale": {"domain": [0, 0.15, 0.3, 0.45, 0.6, 0.75, 0.88, 1], "range": ["#2b1354", "#3a1f78", "#4f2ea8", "#3f45d0", "#3a72e2", "#43a5f4", "#8dd2f9", "#c7ecfc"]},
              "legend": {"orient": "none", "legendX": 1082, "legendY": -214, "direction": "vertical", "title": null, "gradientLength": 728, "gradientThickness": 35, "values": [0, 1], "format": "d", "labelFontSize": 28, "labelFontWeight": "bold", "labelOffset": 22, "gradientStrokeColor": "#e0e0e0", "gradientStrokeWidth": 1}}
          }
        },
        {
          "data": {"values": [{"label": "Remediation", "x": 10.77, "y": 126.69}]},
          "mark": {"type": "text", "fontSize": 44, "fontWeight": "bold", "align": "center", "baseline": "alphabetic", "color": "black"},
          "encoding": {
            "x": {"field": "x", "type": "quantitative", "scale": {"domain": [-0.5, 20.5], "nice": false, "zero": false}, "axis": null},
            "y": {"field": "y", "type": "quantitative", "scale": {"domain": [-2.5, 102.5], "nice": false, "zero": false}, "axis": null},
            "text": {"field": "label"}
          }
        },
        {
          "data": {"values": [{"label": "Drive Allele Frequency", "x": 26.93, "y": 72.39}]},
          "mark": {"type": "text", "angle": 270, "fontSize": 33, "fontWeight": "bold", "align": "center", "baseline": "alphabetic", "color": "black"},
          "encoding": {
            "x": {"field": "x", "type": "quantitative", "scale": {"domain": [-0.5, 20.5], "nice": false, "zero": false}, "axis": null},
            "y": {"field": "y", "type": "quantitative", "scale": {"domain": [-2.5, 102.5], "nice": false, "zero": false}, "axis": null},
            "text": {"field": "label"}
          }
        },
        {
          "data": {"values": [{"x": 17.08, "x2": 19.65, "y": 100.3, "y2": 81.91}]},
          "mark": {"type": "rect", "fill": "white", "stroke": "black", "strokeWidth": 2.5},
          "encoding": {
            "x": {"field": "x", "type": "quantitative", "scale": {"domain": [-0.5, 20.5], "nice": false, "zero": false}, "axis": null},
            "x2": {"field": "x2"},
            "y": {"field": "y", "type": "quantitative", "scale": {"domain": [-2.5, 102.5], "nice": false, "zero": false}, "axis": null},
            "y2": {"field": "y2"}
          }
        },
        {
          "data": {"values": [{"label": "B", "x": 18.36, "y": 86.8}]},
          "mark": {"type": "text", "fontSize": 44, "fontWeight": "bold", "align": "center", "baseline": "alphabetic", "color": "black"},
          "encoding": {
            "x": {"field": "x", "type": "quantitative", "scale": {"domain": [-0.5, 20.5], "nice": false, "zero": false}, "axis": null},
            "y": {"field": "y", "type": "quantitative", "scale": {"domain": [-2.5, 102.5], "nice": false, "zero": false}, "axis": null},
            "text": {"field": "label"}
          }
        },
        {
          "data": {"values": [{"x": 16.27, "x2": 10.29, "y": -29.5, "y2": 52.24}]},
          "mark": {"type": "rule", "color": "#4a73c6", "strokeWidth": 4},
          "encoding": {
            "x": {"field": "x", "type": "quantitative", "scale": {"domain": [-0.5, 20.5], "nice": false, "zero": false}, "axis": null},
            "x2": {"field": "x2"},
            "y": {"field": "y", "type": "quantitative", "scale": {"domain": [-2.5, 102.5], "nice": false, "zero": false}, "axis": null},
            "y2": {"field": "y2"}
          }
        },
        {
          "data": {"values": [{"x": 10.29, "y": 52.24}]},
          "mark": {"type": "point", "shape": "M-0.44,0.79L0,0L0.44,0.79", "filled": false, "stroke": "#4a73c6", "strokeWidth": 4, "size": 2304, "angle": -20, "opacity": 1},
          "encoding": {
            "x": {"field": "x", "type": "quantitative", "scale": {"domain": [-0.5, 20.5], "nice": false, "zero": false}, "axis": null},
            "y": {"field": "y", "type": "quantitative", "scale": {"domain": [-2.5, 102.5], "nice": false, "zero": false}, "axis": null}
          }
        }
      ]
    }
  ]
}
